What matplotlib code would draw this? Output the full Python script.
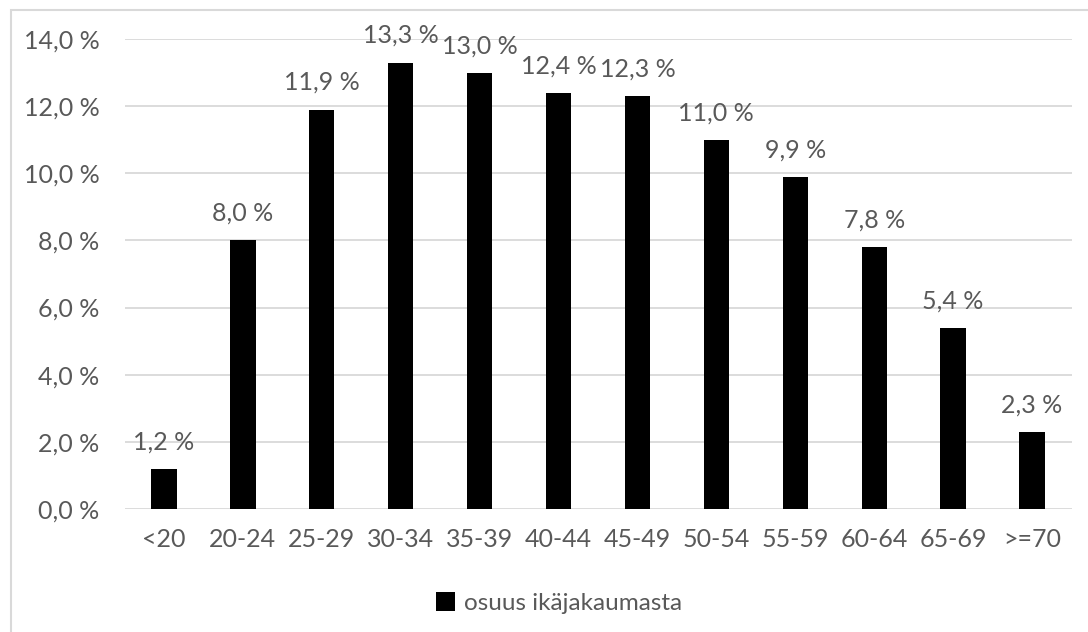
import matplotlib
matplotlib.use('Agg')
import matplotlib.pyplot as plt
from matplotlib.patches import Rectangle

plt.rcParams['font.family'] = ['Lato', 'DejaVu Sans']

categories = ['<20', '20-24', '25-29', '30-34', '35-39', '40-44', '45-49',
              '50-54', '55-59', '60-64', '65-69', '>=70']
values = [1.2, 8.0, 11.9, 13.3, 13.0, 12.4, 12.3, 11.0, 9.9, 7.8, 5.4, 2.3]
y_ticks = [0, 2, 4, 6, 8, 10, 12, 14]
series_label = 'osuus ikäjakaumasta'

text_color = '#595959'
grid_color = '#d9d9d9'

fig = plt.figure(figsize=(10.88, 6.32), dpi=100)
ax = fig.add_axes([124.5 / 1088, 123 / 632, 947 / 1088, 470 / 632])

x = list(range(len(categories)))
bars = ax.bar(x, values, width=0.32, color='black', zorder=2, label=series_label)

for xi, v in zip(x, values):
    ax.annotate(f'{v:.1f} %'.replace('.', ','), xy=(xi, v), xytext=(0, 14),
                textcoords='offset points', ha='center', va='baseline',
                fontsize=18, color=text_color, zorder=3)

ax.set_xlim(-0.5, len(categories) - 0.5)
ax.set_ylim(0, 14)
ax.set_yticks(y_ticks)
ax.set_yticklabels([f'{t:.1f} %'.replace('.', ',') for t in y_ticks])
ax.set_xticks(x)
ax.set_xticklabels(categories)
ax.tick_params(axis='both', length=0, labelsize=18, labelcolor=text_color)
ax.tick_params(axis='y', pad=18)
ax.tick_params(axis='x', pad=14)
ax.grid(axis='y', color=grid_color, linewidth=1.3, zorder=0)
ax.set_axisbelow(True)
for s in ax.spines.values():
    s.set_visible(False)

leg = fig.legend(handles=[bars], labels=[series_label], loc='center',
                 bbox_to_anchor=(559 / 1088, 1 - 603 / 632), frameon=False,
                 fontsize=17.5, handlelength=0.8, handleheight=0.8,
                 handletextpad=0.35, labelcolor=text_color)

# light outer frame (chart area border)
fig.patches.append(Rectangle((11 / 1088, -0.05), 1.2, (632 - 10) / 632 + 0.05,
                             transform=fig.transFigure, fill=False,
                             edgecolor='#d9d9d9', linewidth=1.5))

fig.savefig('out.png', dpi=100)
